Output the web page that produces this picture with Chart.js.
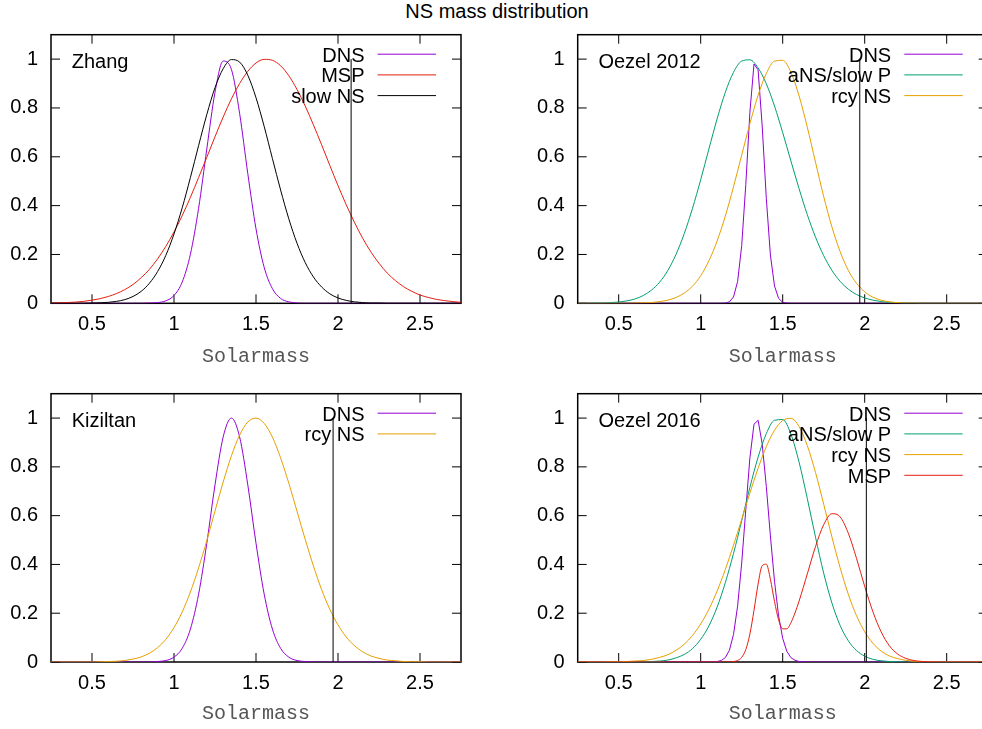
<!DOCTYPE html>
<html>
<head>
<meta charset="utf-8">
<title>NS mass distribution</title>
<script src="https://cdn.jsdelivr.net/npm/chart.js@4.4.1/dist/chart.umd.min.js"></script>
<style>
  html, body { margin: 0; padding: 0; overflow: hidden; background: #fff; }
  body { width: 982px; height: 729px; position: relative; }
  canvas { position: absolute; }
  #title {
    position: absolute; left: 0; top: 1px; width: 994px; text-align: center;
    font: 20px/20px "Liberation Sans", Arial, sans-serif; color: #000;
  }
</style>
</head>
<body>
<div id="title">NS mass distribution</div>
<canvas id="zhang" width="491" height="370" style="left:0;top:0"></canvas>
<canvas id="oezel2012" width="510" height="370" style="left:491px;top:0"></canvas>
<canvas id="kiziltan" width="491" height="370" style="left:0;top:359px"></canvas>
<canvas id="oezel2016" width="510" height="370" style="left:491px;top:359px"></canvas>
<script>
/* ---- mass grids (solar masses) ---- */
const massGrid = [0.25, 0.3, 0.35, 0.4, 0.45, 0.5, 0.55, 0.6, 0.65, 0.7, 0.75, 0.8, 0.85, 0.9, 0.95,
  1, 1.05, 1.1, 1.15, 1.2, 1.25, 1.3, 1.35, 1.4, 1.45, 1.5, 1.55, 1.6, 1.65, 1.7, 1.75, 1.8, 1.85,
  1.9, 1.95, 2, 2.05, 2.1, 2.15, 2.2, 2.25, 2.3, 2.35, 2.4, 2.45, 2.5, 2.55, 2.6, 2.65, 2.7, 2.75];
const dnsGrid2012 = [0.25, 1.1, 1.125, 1.15, 1.175, 1.2, 1.225, 1.25, 1.275, 1.3, 1.325, 1.35, 1.375,
  1.4, 1.425, 1.45, 1.475, 1.5, 1.525, 1.55, 2.75];
const dnsGrid2016 = [0.25, 1.075, 1.1, 1.125, 1.15, 1.175, 1.2, 1.225, 1.25, 1.275, 1.3, 1.325, 1.35,
  1.375, 1.4, 1.425, 1.45, 1.475, 1.5, 1.525, 1.55, 1.575, 1.6, 1.625, 1.65, 2.75];
const mspGrid2016 = [0.25, 1.15, 1.175, 1.2, 1.225, 1.25, 1.275, 1.3, 1.325, 1.35, 1.375, 1.4, 1.425,
  1.45, 1.475, 1.5, 1.525, 1.55, 1.575, 1.6, 1.65, 1.7, 1.75, 1.8, 1.85, 1.9, 1.95, 2, 2.05, 2.1,
  2.15, 2.2, 2.25, 2.3, 2.35, 2.4, 2.45, 2.5, 2.75];

/* ---- Zhang ---- */
const zhangDns = [0, 0, 0, 0, 0, 0, 0, 0, 0, 0, 0, 0, 0.001, 0.003, 0.010, 0.032, 0.087, 0.201, 0.389,
  0.632, 0.864, 0.992, 0.958, 0.778, 0.531, 0.305, 0.147, 0.060, 0.020, 0.006, 0.001,
  0, 0, 0, 0, 0, 0, 0, 0, 0, 0, 0, 0, 0, 0, 0, 0, 0, 0, 0, 0];
const zhangMsp = [0.001, 0.002, 0.003, 0.005, 0.008, 0.013, 0.019, 0.028, 0.040, 0.056, 0.077, 0.105,
  0.139, 0.182, 0.233, 0.292, 0.359, 0.434, 0.515, 0.598, 0.682, 0.763, 0.837, 0.900, 0.950, 0.984,
  0.999, 0.995, 0.973, 0.932, 0.876, 0.808, 0.731, 0.649, 0.565, 0.482, 0.404, 0.332, 0.267, 0.211,
  0.164, 0.124, 0.093, 0.068, 0.049, 0.034, 0.024, 0.016, 0.011, 0.007, 0.004];
const zhangSlow = [0, 0, 0, 0, 0, 0.001, 0.002, 0.004, 0.008, 0.015, 0.028, 0.049, 0.082, 0.130, 0.196,
  0.284, 0.391, 0.515, 0.646, 0.773, 0.883, 0.961, 0.998, 0.988, 0.934, 0.842, 0.724, 0.593, 0.464,
  0.346, 0.246, 0.167, 0.108, 0.067, 0.039, 0.022, 0.012, 0.006, 0.003, 0.001, 0.001,
  0, 0, 0, 0, 0, 0, 0, 0, 0, 0];

/* ---- Oezel 2012 ---- */
const oezel12Dns = [0, 0, 0, 0.001, 0.006, 0.026, 0.089, 0.236, 0.487, 0.783, 0.980, 0.956, 0.726,
  0.430, 0.198, 0.071, 0.020, 0.004, 0.001, 0, 0];
const oezel12Slow = [0, 0, 0.001, 0.001, 0.003, 0.005, 0.010, 0.018, 0.032, 0.054, 0.087, 0.135, 0.201,
  0.286, 0.389, 0.506, 0.632, 0.755, 0.864, 0.946, 0.992, 0.997, 0.964, 0.899, 0.808, 0.699, 0.583,
  0.469, 0.363, 0.271, 0.195, 0.135, 0.090, 0.058, 0.036, 0.022, 0.013, 0.007, 0.004, 0.002, 0.001,
  0.001, 0, 0, 0, 0, 0, 0, 0, 0, 0];
const oezel12Rcy = [0, 0, 0, 0, 0, 0, 0, 0.001, 0.002, 0.003, 0.007, 0.013, 0.024, 0.042, 0.070, 0.113,
  0.174, 0.255, 0.357, 0.477, 0.607, 0.736, 0.852, 0.941, 0.992, 0.995, 0.946, 0.849, 0.721, 0.578,
  0.437, 0.313, 0.212, 0.135, 0.082, 0.047, 0.025, 0.013, 0.006, 0.003, 0.001, 0.001,
  0, 0, 0, 0, 0, 0, 0, 0, 0];

/* ---- Kiziltan ---- */
const kizDns = [0, 0, 0, 0, 0, 0, 0, 0, 0, 0, 0, 0, 0, 0.002, 0.006, 0.020, 0.056, 0.135, 0.278, 0.487,
  0.726, 0.923, 1.000, 0.923, 0.726, 0.487, 0.278, 0.135, 0.056, 0.020, 0.006, 0.002, 0,
  0, 0, 0, 0, 0, 0, 0, 0, 0, 0, 0, 0, 0, 0, 0, 0, 0, 0];
const kizRcy = [0, 0, 0, 0, 0, 0, 0.001, 0.002, 0.003, 0.006, 0.012, 0.021, 0.036, 0.059, 0.093, 0.141,
  0.205, 0.287, 0.386, 0.498, 0.619, 0.738, 0.845, 0.930, 0.984, 1.000, 0.978, 0.922, 0.837, 0.733,
  0.618, 0.503, 0.394, 0.297, 0.216, 0.152, 0.103, 0.067, 0.042, 0.025, 0.015, 0.008, 0.005, 0.002,
  0.001, 0.001, 0, 0, 0, 0, 0];

/* ---- Oezel 2016 ---- */
const oezel16Dns = [0, 0, 0.002, 0.006, 0.018, 0.048, 0.113, 0.229, 0.406, 0.625, 0.837, 0.975, 0.991,
  0.894, 0.720, 0.517, 0.331, 0.189, 0.097, 0.044, 0.018, 0.007, 0.002, 0.001, 0, 0];
const oezel16Slow = [0, 0, 0, 0, 0, 0, 0, 0, 0.001, 0.002, 0.004, 0.008, 0.017, 0.031, 0.055, 0.093,
  0.148, 0.225, 0.325, 0.445, 0.579, 0.716, 0.840, 0.936, 0.991, 0.994, 0.934, 0.819, 0.670, 0.512,
  0.364, 0.242, 0.150, 0.087, 0.047, 0.024, 0.011, 0.005, 0.002, 0.001, 0,
  0, 0, 0, 0, 0, 0, 0, 0, 0, 0];
const oezel16Rcy = [0, 0, 0, 0, 0.001, 0.001, 0.002, 0.004, 0.006, 0.011, 0.019, 0.030, 0.048, 0.073,
  0.109, 0.156, 0.216, 0.291, 0.379, 0.479, 0.585, 0.693, 0.794, 0.883, 0.950, 0.990, 0.999, 0.965,
  0.887, 0.777, 0.647, 0.513, 0.387, 0.278, 0.190, 0.124, 0.077, 0.045, 0.025, 0.014, 0.007, 0.003,
  0.002, 0.001, 0, 0, 0, 0, 0, 0, 0];
const oezel16Msp = [0, 0, 0, 0.002, 0.006, 0.019, 0.051, 0.115, 0.212, 0.320, 0.395, 0.401, 0.339,
  0.248, 0.173, 0.136, 0.136, 0.161, 0.201, 0.250, 0.361, 0.473, 0.563, 0.608, 0.595, 0.528, 0.425,
  0.310, 0.206, 0.124, 0.067, 0.033, 0.015, 0.006, 0.002, 0.001, 0, 0, 0];

// heaviest measured mass drawn as a vertical marker in each panel
const maxMass = { zhang: 2.08, oezel2012: 1.97, kiziltan: 1.97, oezel2016: 2.01 };

const xTicks = [0.5, 1, 1.5, 2, 2.5];
const yTicks = [0, 0.2, 0.4, 0.6, 0.8, 1];

const C = { dns: '#9400d3', slow: '#009e73', rcy: '#e69f00', msp: '#e51e10', black: '#000000' };
const SANS = '"Liberation Sans", Arial, sans-serif';

function curve(label, xs, ys, color, smooth) {
  return {
    label,
    data: xs.map((x, i) => ({ x, y: ys[i] })),
    borderColor: color,
    borderWidth: 1,
    pointRadius: 0,
    fill: false,
    tension: 0,
    cubicInterpolationMode: smooth ? 'monotone' : 'default'
  };
}

// gnuplot-like border with inward ticks on all four sides
const frameTicks = {
  id: 'frameTicks',
  beforeDatasetsDraw(chart) {
    const { ctx, chartArea: a, scales: { x, y } } = chart;
    ctx.save();
    ctx.strokeStyle = '#000';
    ctx.lineWidth = 1;
    ctx.beginPath();
    x.ticks.forEach(t => {
      const px = x.getPixelForValue(t.value);
      ctx.moveTo(px, a.bottom); ctx.lineTo(px, a.bottom - 9);
      ctx.moveTo(px, a.top); ctx.lineTo(px, a.top + 9);
    });
    y.ticks.forEach(t => {
      const py = y.getPixelForValue(t.value);
      ctx.moveTo(a.left, py); ctx.lineTo(a.left + 9, py);
      ctx.moveTo(a.right, py); ctx.lineTo(a.right - 9, py);
    });
    ctx.stroke();
    ctx.lineWidth = 1.5;
    ctx.strokeRect(a.left, a.top, a.right - a.left, a.bottom - a.top);
    ctx.restore();
  }
};

// key in the top right corner + panel name in the top left
const keyBox = {
  id: 'keyBox',
  afterDatasetsDraw(chart, args, opts) {
    const { ctx, chartArea: a } = chart;
    ctx.save();
    ctx.font = '20px ' + SANS;
    ctx.fillStyle = '#000';
    ctx.textBaseline = 'alphabetic';
    ctx.textAlign = 'right';
    let row = a.top + 19.5;
    chart.data.datasets.forEach(ds => {
      if (!ds.label) return;
      ctx.fillText(ds.label, a.right - 96.5, row + 7.3);
      ctx.strokeStyle = ds.borderColor;
      ctx.lineWidth = 1;
      ctx.beginPath();
      ctx.moveTo(a.right - 83.4, row);
      ctx.lineTo(a.right - 25, row);
      ctx.stroke();
      row += 20.7;
    });
    ctx.textAlign = 'left';
    ctx.fillText(opts.name, a.left + 20.7, chart.scales.y.getPixelForValue(1) + 9.2);
    ctx.restore();
  }
};

function makePanel(id, name, series, limit, box) {
  const datasets = series.map((s, i) => Object.assign(s, { order: series.length - i + 1 }));
  datasets.push({
    data: [{ x: limit, y: 0 }, { x: limit, y: 1 }],
    borderColor: C.black, borderWidth: 1, pointRadius: 0, order: 0
  });
  return new Chart(document.getElementById(id), {
    type: 'line',
    data: { datasets },
    plugins: [frameTicks, keyBox],
    options: {
      responsive: false,
      animation: false,
      layout: { padding: { top: box.top, right: box.right, bottom: 0, left: 0 } },
      plugins: {
        legend: { display: false },
        tooltip: { enabled: false },
        keyBox: { name }
      },
      scales: {
        x: {
          type: 'linear', min: 0.25, max: 2.75,
          afterBuildTicks: s => { s.ticks = xTicks.map(value => ({ value })); },
          afterFit: s => { s.height = box.axisH; },
          grid: { display: false, drawTicks: false },
          border: { display: false },
          ticks: { padding: 9, maxRotation: 0, color: '#000', font: { family: SANS, size: 20 },
                   callback: v => String(v) },
          title: { display: true, text: 'Solarmass', color: '#555',
                   font: { family: '"Liberation Mono", "Courier New", monospace', size: 20 },
                   padding: { top: 0, bottom: box.titlePad } }
        },
        y: {
          min: 0, max: 1.1,
          afterBuildTicks: s => { s.ticks = yTicks.map(value => ({ value })); },
          afterFit: s => { s.width = box.axisW; },
          grid: { display: false, drawTicks: false },
          border: { display: false },
          ticks: { padding: 13, color: '#000', font: { family: SANS, size: 20 },
                   callback: v => String(v) }
        }
      }
    }
  });
}

makePanel('zhang', 'Zhang', [
  curve('DNS', massGrid, zhangDns, C.dns, true),
  curve('MSP', massGrid, zhangMsp, C.msp, true),
  curve('slow NS', massGrid, zhangSlow, C.black, true)
], maxMass.zhang, { top: 34.7, right: 30, axisW: 51, axisH: 66.7, titlePad: 1.5 });

makePanel('oezel2012', 'Oezel 2012', [
  curve('DNS', dnsGrid2012, oezel12Dns, C.dns, false),
  curve('aNS/slow P', massGrid, oezel12Slow, C.slow, true),
  curve('rcy NS', massGrid, oezel12Rcy, C.rcy, true)
], maxMass.oezel2012, { top: 34.7, right: 13.3, axisW: 86.7, axisH: 66.7, titlePad: 1.5 });

makePanel('kiziltan', 'Kiziltan', [
  curve('DNS', massGrid, kizDns, C.dns, true),
  curve('rcy NS', massGrid, kizRcy, C.rcy, true)
], maxMass.kiziltan, { top: 34.7, right: 30, axisW: 51, axisH: 67, titlePad: 3 });

makePanel('oezel2016', 'Oezel 2016', [
  curve('DNS', dnsGrid2016, oezel16Dns, C.dns, false),
  curve('aNS/slow P', massGrid, oezel16Slow, C.slow, true),
  curve('rcy NS', massGrid, oezel16Rcy, C.rcy, true),
  curve('MSP', mspGrid2016, oezel16Msp, C.msp, true)
], maxMass.oezel2016, { top: 34.7, right: 13.3, axisW: 86.7, axisH: 67, titlePad: 3 });
</script>
</body>
</html>
